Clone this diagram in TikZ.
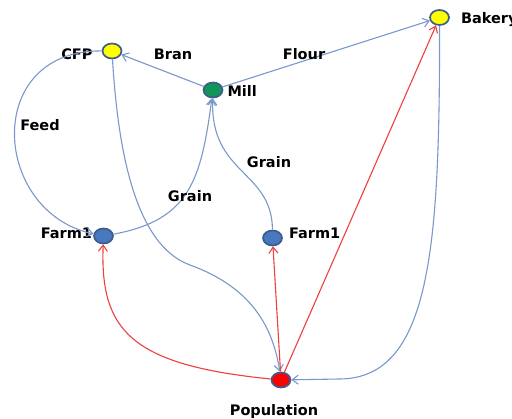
\documentclass[tikz,border=0pt]{standalone}
\usepackage{fontspec}
\setmainfont{DejaVu Sans}
\usetikzlibrary{arrows.meta}
\usetikzlibrary{shapes.geometric}
\usetikzlibrary{positioning}

\definecolor{flowblue}{RGB}{122,152,202}
\definecolor{demandred}{RGB}{238,64,64}
\definecolor{siteedge}{RGB}{62,92,142}
\definecolor{cfpyellow}{RGB}{255,255,0}
\definecolor{millgreen}{RGB}{16,150,86}
\definecolor{farmblue}{RGB}{72,120,190}
\definecolor{popred}{RGB}{255,0,0}

\tikzset{
  site/.style={ellipse, draw=siteedge, line width=1.7pt, minimum width=19pt, minimum height=15pt, inner sep=0pt},
  tag/.style={font=\fontsize{14.5}{16}\selectfont\bfseries, inner sep=1pt},
  flow/.style={flowblue, line width=1.1pt},
  demand/.style={demandred, line width=1.1pt},
  >={Straight Barb[length=6pt,width=9pt]}
}

\begin{document}
\begin{tikzpicture}[x=1pt,y=-1pt]
    \useasboundingbox (0,0) rectangle (512,419);
    \fill[white] (0,0) rectangle (512,419);
    \clip (0,0) rectangle (512,419);

    % the sites
    \node[site, fill=cfpyellow] (cfp) at (112,51) {};
    \node[site, fill=millgreen] (mill) at (213,90) {};
    \node[site, fill=cfpyellow] (bakery) at (439.5,17.5) {};
    \node[site, fill=farmblue] (farmL) at (103.5,236) {};
    \node[site, fill=farmblue] (farmR) at (272.5,238) {};
    \node[site, fill=popred] (pop) at (281,380) {};

    % their names
    \node[tag, left=8pt of cfp, yshift=-3pt] (cfptxt) {CFP};
    \node[tag, right=3pt of mill, yshift=-1pt] (milltxt) {Mill};
    \node[tag, right=10pt of bakery, yshift=-2.5pt] (bakerytxt) {Bakery};
    \node[tag, left=0pt of farmL, yshift=3pt] (farmLtxt) {Farm1};
    \node[tag, right=5pt of farmR, yshift=5pt] (farmRtxt) {Farm1};
    \node[tag, below=15pt of pop, xshift=-7pt] (poptxt) {Population};

    % goods
    \draw[flow,->] (mill) -- (cfp);
    \draw[flow,->] (mill) -- (bakery);
    \draw[flow,->] (farmL) .. controls (190,220) and (201,180) .. (mill);
    \draw[flow,->] (farmR) .. controls (272,170) and (210,175) .. (mill);
    \draw[flow,->] (cfp) .. controls (-18,50) and (-8,212) .. (farmL);
    \draw[flow,->] (cfp) .. controls (118,150) and (135,245) .. (190,265)
                   .. controls (245,285) and (272,320) .. (pop);
    \draw[flow,->] (bakery) .. controls (440,250) and (430,378) .. (340,379) -- (pop);

    % demand
    \draw[demand,->] (pop) .. controls (130,365) and (100,330) .. (farmL);
    \draw[demand,->] (pop) -- (farmR);
    \draw[demand,->] (pop) -- (bakery);

    % goods names
    \node[tag] (bran) at (173,54) {Bran};
    \node[tag] (flour) at (304,54) {Flour};
    \node[tag] (feed) at (40,125) {Feed};
    \node[tag] (grainL) at (190,196) {Grain};
    \node[tag] (grainR) at (269,162) {Grain};

  \end{tikzpicture}
\end{document}
